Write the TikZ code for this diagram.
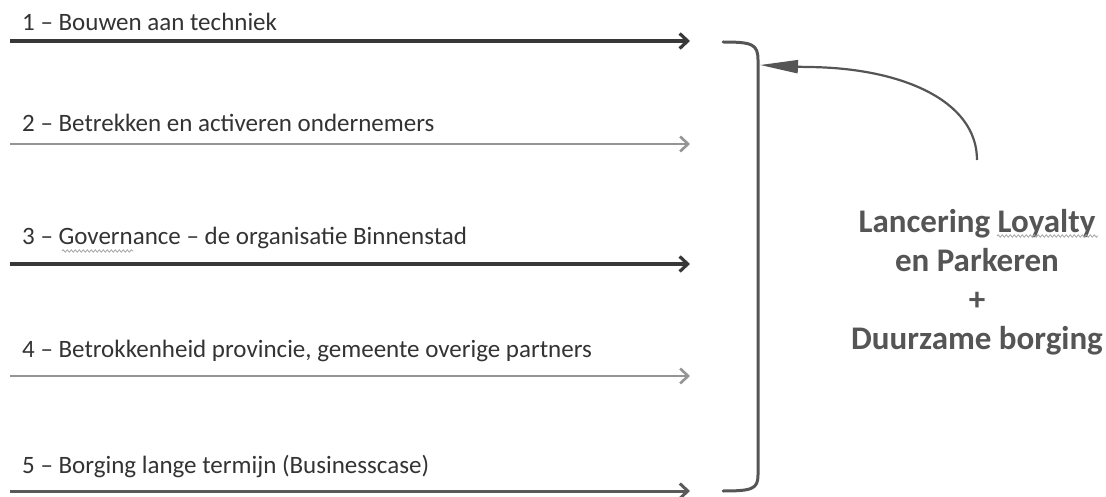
\documentclass[tikz,border=0pt]{standalone}
\usepackage{fontspec}
\setmainfont{Carlito}
\usetikzlibrary{arrows.meta,decorations.pathmorphing}
\definecolor{txt}{HTML}{333333}
\definecolor{dark}{HTML}{383838}
\definecolor{mid}{HTML}{5A5A5A}
\definecolor{light}{HTML}{959595}
\definecolor{goal}{HTML}{555555}
\tikzset{
  track/.style={-{Straight Barb[length=8pt,width=15pt]}},
  item/.style={anchor=base west, inner sep=0pt, text=txt, font=\fontsize{25}{30}\selectfont},
  brace/.style={draw=goal, line width=3pt, line cap=round},
  feed/.style={draw=goal, line width=2.2pt, -{Triangle[length=38pt,width=13pt]}},
  spell/.style={draw=gray!70, line width=0.8pt, decorate, decoration={snake, amplitude=1.2pt, segment length=4pt}},
}
\begin{document}
\begin{tikzpicture}[x=1pt,y=-1pt]
\useasboundingbox (0,0) rectangle (1106,497);
\foreach \n/\t/\b/\a/\c/\w in {1/{Bouwen aan techniek}/31/41/dark/3.2,
    2/{Betrekken en activeren ondernemers}/132/144/light/2.6,
    3/{Governance -- de organisatie Binnenstad}/245/264/dark/3.2,
    4/{Betrokkenheid provincie, gemeente overige partners}/357/376/light/2.6,
    5/{Borging lange termijn (Businesscase)}/473/491/mid/3}{
  \node[item] (l\n) at (22,\b) {\n\ -- \t};
  \coordinate (s\n) at (10,\a);
  \coordinate (e\n) at (690,\a);
  \draw[track,draw=\c,line width=\w pt] (s\n) -- (e\n);
}
\draw[spell] (62,251) -- (133,251);
\coordinate (bt) at (723,42);
\coordinate (bb) at (723,491);
\coordinate (bm) at (760,65);
\coordinate (hook) at (977,160);
\draw[brace] (bt) .. controls (752,42) and (758,44) .. (758,60) -- (758,475)
  .. controls (758,489) and (752,491) .. (bb);
\draw[feed] (hook) .. controls (977,100) and (900,67) .. (805,67) -- (bm);
\node[align=center, text=goal, font=\bfseries\fontsize{33}{39}\selectfont] (goal) at (977,282)
  {Lancering Loyalty\\en Parkeren\\+\\Duurzame borging};
\draw[spell] (997,236) -- (1098,236);
\end{tikzpicture}
\end{document}
